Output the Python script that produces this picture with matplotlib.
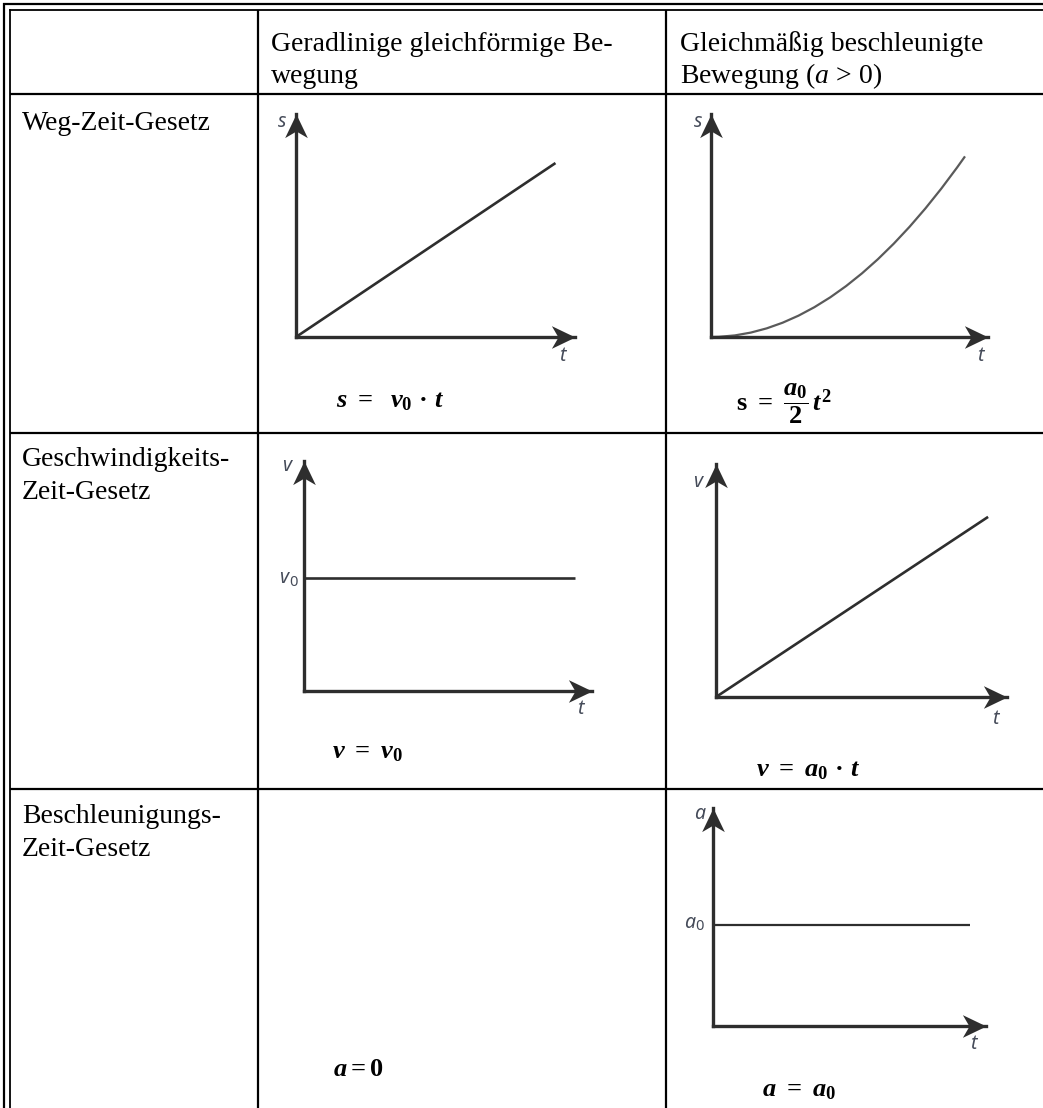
import matplotlib
matplotlib.use("Agg")

import matplotlib.pyplot as plt
from matplotlib.path import Path
from matplotlib.patches import PathPatch

plt.rcParams.update({
    "mathtext.fontset": "custom",
    "mathtext.rm": "Liberation Serif:bold",
    "mathtext.it": "Liberation Serif:italic:bold",
    "mathtext.bf": "Liberation Serif:bold",
    "mathtext.sf": "Liberation Serif:italic",
})

W, H = 1043, 1108

# --- table text ---
header_col1 = ["Geradlinige gleichförmige Be-", "wegung"]
header_col2 = ["Gleichmäßig beschleunigte", r"Bewegung ($\mathsf{a}$ > 0)"]
row_labels = [["Weg-Zeit-Gesetz"],
              ["Geschwindigkeits-", "Zeit-Gesetz"],
              ["Beschleunigungs-", "Zeit-Gesetz"]]

# --- curves, in units of the axis length (1 = arrow tip) ---
t_s_lin = [0.0, 0.93]
s_lin = [0.0, 0.78]
# parabola as quadratic Bezier: start, tangent point, end
t_s_quad = [0.0, 0.46, 0.917]
s_quad = [0.0, 0.0, 0.81]
t_v_const = [0.0, 0.94]
v_const = [0.49, 0.49]
t_v_lin = [0.0, 0.935]
v_lin = [0.0, 0.773]
t_a_const = [0.0, 0.94]
a_const = [0.463, 0.463]

formulas = [r"$s\ =\ \ v_0\ ·\ t$", r"$\mathrm{s}\ =\ \dfrac{a_0}{2}\,t^2$",
            r"$v\ =\ v_0$", r"$v\ =\ a_0\ ·\ t$",
            r"$a = 0$", r"$a\ =\ a_0$"]

fig = plt.figure(figsize=(W / 100, H / 100), dpi=100)
bg = fig.add_axes([0, 0, 1, 1])
bg.set_xlim(0, W)
bg.set_ylim(H, 0)
bg.axis("off")

# table rules (double frame top/left)
bg.hlines(4, 3, W, color="black", lw=1.6)
bg.hlines(9.5, 9, W, color="black", lw=1.3)
bg.vlines(4, 3, H, color="black", lw=1.6)
bg.vlines(9.5, 9, H, color="black", lw=1.3)
for y in [94, 433, 789]:
    bg.hlines(y, 9.5, W, color="black", lw=1.6)
for x in [258, 666]:
    bg.vlines(x, 9.5, H, color="black", lw=1.6)

serif = dict(family="Liberation Serif", fontsize=20, color="black", va="baseline")
for i, line in enumerate(header_col1):
    bg.text(271, 51 + 32 * i, line, **serif)
for i, line in enumerate(header_col2):
    bg.text(680, 51 + 32 * i, line, **serif)
for base, lines in zip([130, 466, 823], row_labels):
    for i, line in enumerate(lines):
        bg.text(22, base + 33 * i, line, **serif)

formula_pos = [(336, 407), (736, 411), (332, 758), (756, 776), (333, 1076), (762, 1096)]
for (x, y), f in zip(formula_pos, formulas):
    bg.text(x, y, f, fontsize=19, va="baseline", ha="left")

# small graphs
right_head = Path([(0, 0), (-1, 0.48), (-0.72, 0), (-1, -0.48), (0, 0)],
                  [Path.MOVETO, Path.LINETO, Path.LINETO, Path.LINETO, Path.CLOSEPOLY])
up_head = Path([(0, 0), (0.48, -1), (0, -0.72), (-0.48, -1), (0, 0)],
               [Path.MOVETO, Path.LINETO, Path.LINETO, Path.LINETO, Path.CLOSEPOLY])

AX_COL = "#2e2e2e"
LAB_COL = "#454b59"

# origin x, origin y, x-arrow tip, y-arrow tip (pixels)
boxes = [(296, 337, 575, 114), (711, 337, 988, 114), (304, 691, 592, 461),
         (716, 697, 1007, 464), (713, 1026, 986, 808)]
curves = [(t_s_lin, s_lin, "#2e2e2e", 1.9, "line"), (t_s_quad, s_quad, "#5a5a5a", 1.6, "bezier"),
          (t_v_const, v_const, "#2e2e2e", 1.9, "line"), (t_v_lin, v_lin, "#2e2e2e", 1.9, "line"),
          (t_a_const, a_const, "#2e2e2e", 1.6, "line")]
y_names = ["s", "s", "v", "v", "a"]
y_name_pos = [(282, 122), (698, 122), (287, 466), (698, 482), (700, 814)]
t_pos = [(562, 356), (980, 356), (580, 709), (995, 719), (973, 1044)]

for (ox, oy, xt, yt), (tx, ty, col, lw, kind) in zip(boxes, curves):
    ax = fig.add_axes([ox / W, 1 - oy / H, (xt - ox) / W, (oy - yt) / H])
    ax.set_xlim(0, 1)
    ax.set_ylim(0, 1)
    ax.patch.set_alpha(0)
    for side in ["top", "right"]:
        ax.spines[side].set_visible(False)
    for side in ["left", "bottom"]:
        ax.spines[side].set_linewidth(2.4)
        ax.spines[side].set_color(AX_COL)
    ax.set_xticks([])
    ax.set_yticks([])
    if kind == "bezier":
        p = Path(list(zip(tx, ty)), [Path.MOVETO, Path.CURVE3, Path.CURVE3])
        ax.add_patch(PathPatch(p, fill=False, ec=col, lw=lw, clip_on=False))
    else:
        ax.plot(tx, ty, color=col, lw=lw, clip_on=False, solid_capstyle="butt")
    ax.plot(1, 0, marker=right_head, ms=34, color=AX_COL, mew=0,
            transform=ax.transAxes, clip_on=False)
    ax.plot(0, 1, marker=up_head, ms=34, color=AX_COL, mew=0,
            transform=ax.transAxes, clip_on=False)

sans = dict(family=["Noto Sans", "DejaVu Sans"], style="italic", fontsize=14,
            color=LAB_COL, ha="center", va="center")
for (x, y), name in zip(y_name_pos, y_names):
    bg.text(x, y, name, **sans)
for x, y in t_pos:
    bg.text(x, y, "t", **sans)

# level labels v0 / a0
for (x, y), name in zip([(284, 578), (690, 923)], ["v", "a"]):
    bg.text(x, y, name, **sans)
    bg.text(x + 9, y + 4, "0", family=["Noto Sans", "DejaVu Sans"], fontsize=10.5,
            color=LAB_COL, ha="center", va="center")

fig.savefig("out.png", dpi=100)
